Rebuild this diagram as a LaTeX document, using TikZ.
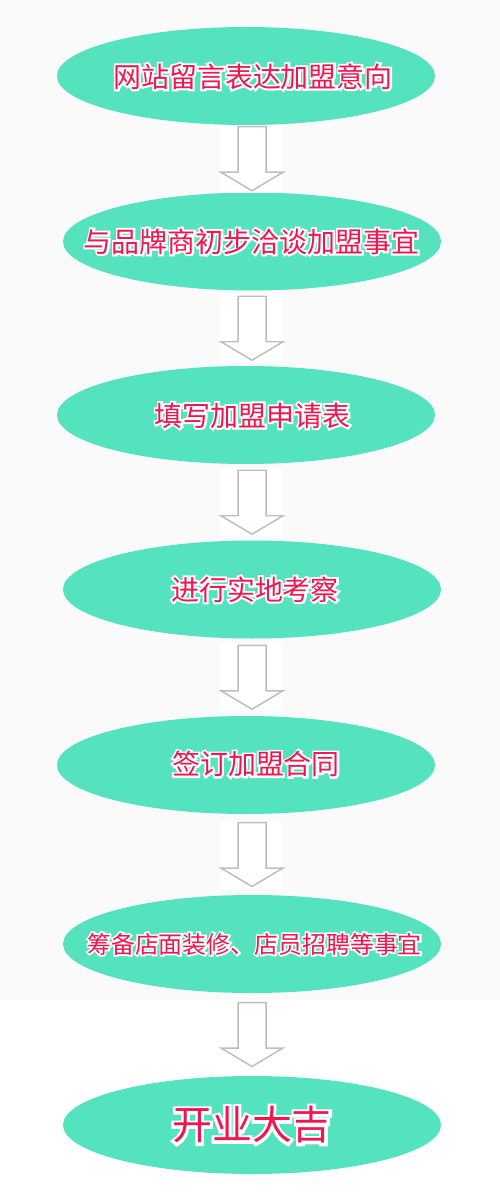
\documentclass[tikz,border=0pt]{standalone}
\usepackage{fontspec}
\setmainfont{Noto Sans CJK SC}
\newfontfamily\halofont[FakeBold=14]{Noto Sans CJK SC}
\usepackage{tikz}
\usetikzlibrary{shapes.geometric}
\usetikzlibrary{calc}
\definecolor{stepfill}{HTML}{55E3BF}
\definecolor{stepred}{HTML}{F2154F}
\definecolor{pagegray}{HTML}{FAFAFA}
\definecolor{arrowgray}{HTML}{BEBEBE}
\newcommand{\steptext}[1]{\makebox[0pt]{\color{white}\halofont#1}\makebox[0pt]{\color{stepred}#1}}
\newcommand{\flowarrow}[2]{%
  \coordinate (mid) at ($(#1.south -| axis)!0.5!(#2.north -| axis)$);
  \coordinate (top) at ($(mid)+(0,0.64)$);
  \coordinate (tip) at ($(mid)+(0,-0.64)$);
  \fill[white] ($(mid)+(-0.64,0.68)$) rectangle ($(mid)+(0.62,-0.68)$);
  \draw[arrowgray,line width=0.85pt,fill=white] ($(top)+(-0.28,0)$) -- ($(tip)+(-0.28,0.37)$)
    -- ($(tip)+(-0.62,0.37)$) -- (tip) -- ($(tip)+(0.62,0.37)$)
    -- ($(tip)+(0.28,0.37)$) -- ($(top)+(0.28,0)$) -- cycle;
}
\begin{document}
\begin{tikzpicture}
\useasboundingbox (0,0) rectangle (10,-24);
\fill[pagegray] (0,0) rectangle (10,-20);
\coordinate (axis) at (5.04,0);
\begin{scope}[every node/.style={ellipse,fill=stepfill,minimum width=7.56cm,minimum height=1.96cm,inner sep=0pt}]
	\node (1) at (4.92,-1.52) {};
	\node (2) at (5.04,-4.83) {};
	\node (3) at (4.92,-8.30) {};
	\node (4) at (5.04,-11.79) {};
	\node (5) at (4.92,-15.30) {};
	\node (6) at (5.04,-18.88) {};
	\node (7) at (5.04,-22.50) {};
\end{scope}

\flowarrow{1}{2}
\flowarrow{2}{3}
\flowarrow{3}{4}
\flowarrow{4}{5}
\flowarrow{5}{6}
\flowarrow{6}{7}

\begin{scope}[every node/.style={inner sep=0pt,font=\fontsize{15.9}{18}\selectfont}]
	\node (t1) at (5.06,-1.53) {\steptext{网站留言表达加盟意向}};
	\node (t2) at (5.03,-4.83) {\steptext{与品牌商初步洽谈加盟事宜}};
	\node (t3) at (5.05,-8.31) {\steptext{填写加盟申请表}};
	\node (t4) at (5.10,-11.79) {\steptext{进行实地考察}};
	\node (t5) at (5.12,-15.28) {\steptext{签订加盟合同}};
	\node[font=\fontsize{13.6}{16}\selectfont] (t6) at (5.09,-18.88) {\steptext{筹备店面装修、店员招聘等事宜}};
	\node[font=\fontsize{22.7}{26}\selectfont] (t7) at (5.04,-22.50) {\steptext{开业大吉}};
\end{scope}
\end{tikzpicture}
\end{document}
